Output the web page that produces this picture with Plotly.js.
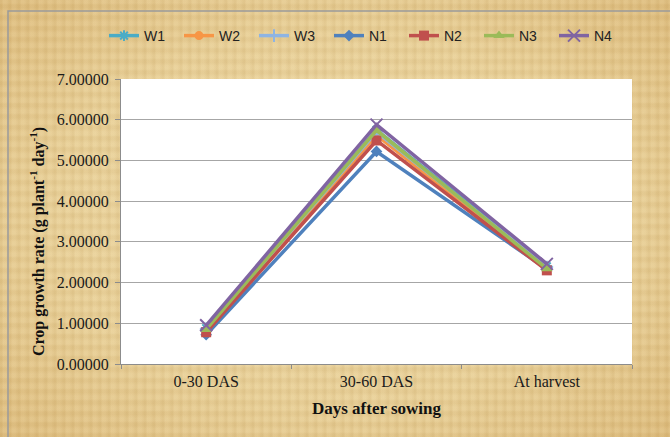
<!DOCTYPE html>
<html>
<head>
<meta charset="utf-8">
<script src="https://cdn.plot.ly/plotly-3.0.1.min.js"></script>
<style>
html,body{margin:0;padding:0;}
body{width:670px;height:437px;overflow:hidden;
background:
 repeating-linear-gradient(90deg, rgba(160,120,50,0.07) 0px, rgba(160,120,50,0.07) 2px, rgba(255,240,200,0.06) 3px, rgba(255,240,200,0.06) 6px, rgba(150,110,40,0.05) 9px),
 repeating-linear-gradient(0deg, rgba(160,120,50,0.06) 0px, rgba(160,120,50,0.06) 3px, rgba(255,245,210,0.07) 5px, rgba(255,245,210,0.07) 8px, rgba(150,110,40,0.04) 11px),
 radial-gradient(ellipse at center, #EDD8A6 0%, #E8CF97 60%, #DDBB7C 100%);
}
#chart{width:670px;height:437px;}
</style>
</head>
<body>
<div id="chart"></div>
<script>
const categories = ["0-30 DAS", "30-60 DAS", "At harvest"];
const seriesNames = ["W1", "W2", "W3", "N1", "N2", "N3", "N4"];
const W1 = [0.88, 5.75, 2.40];
const W2 = [0.82, 5.62, 2.32];
const W3 = [0.86, 5.70, 2.38];
const N1 = [0.72, 5.22, 2.33];
const N2 = [0.78, 5.49, 2.30];
const N3 = [0.85, 5.74, 2.34];
const N4 = [0.95, 5.88, 2.46];
const yTicks = [0, 1, 2, 3, 4, 5, 6, 7];

const seriesValues = [W1, W2, W3, N1, N2, N3, N4];
const colors = ["#4BACC6", "#F79646", "#8EB4E3", "#4F81BD", "#C0504D", "#9BBB59", "#8064A2"];
const symbols = ["asterisk-open", "circle", "cross-thin-open", "diamond", "square", "triangle-up", "x-thin-open"];
const sizes = [9, 9, 9, 9, 10, 10, 12];

const traces = seriesNames.map((n, i) => ({
  type: "scatter",
  mode: "lines+markers",
  name: n,
  x: categories,
  y: seriesValues[i],
  line: {color: colors[i], width: 3.5},
  marker: {symbol: symbols[i], size: sizes[i], color: colors[i],
           line: {color: colors[i], width: (symbols[i].endsWith("open") ? 2 : 0)}}
}));

const W = 670, H = 437;
const m = {l: 121, r: 38, t: 79, b: 73};
const pw = W - m.l - m.r, ph = H - m.t - m.b;
const px = v => (v - m.l) / pw;
const py = v => (H - m.b - v) / ph;
const serif = "Liberation Serif, Times New Roman, serif";

const layout = {
  width: W, height: H,
  margin: m,
  paper_bgcolor: "rgba(0,0,0,0)",
  plot_bgcolor: "#FFFFFF",
  font: {family: serif, size: 16, color: "#1a1a1a"},
  showlegend: true,
  legend: {
    orientation: "h",
    x: px(104), xanchor: "left",
    y: py(36), yanchor: "middle",
    font: {family: "Liberation Sans, Arial, sans-serif", size: 14, color: "#222"},
    entrywidth: 30, entrywidthmode: "pixels",
    itemwidth: 30,
    bgcolor: "rgba(0,0,0,0)",
    tracegroupgap: 0
  },
  xaxis: {
    type: "category",
    range: [-0.5, 2.5],
    showgrid: false,
    showline: true, linecolor: "#8C8C8C", linewidth: 1,
    ticks: "outside", ticklen: 4, tickcolor: "#8C8C8C",
    tickson: "boundaries",
    ticklabelstandoff: 3,
    tickfont: {family: serif, size: 16, color: "#1a1a1a"},
    title: {text: "<b>Days after sowing</b>", standoff: 12,
            font: {family: serif, size: 17, color: "#111"}},
    zeroline: false,
    fixedrange: true
  },
  yaxis: {
    range: [0, 7],
    tickvals: yTicks,
    ticktext: yTicks.map(v => v.toFixed(5)),
    showgrid: true, gridcolor: "#A6A6A6", gridwidth: 1,
    showline: true, linecolor: "#8C8C8C", linewidth: 1,
    ticks: "outside", ticklen: 5, tickcolor: "#8C8C8C",
    ticklabelstandoff: 3,
    tickfont: {family: serif, size: 16, color: "#1a1a1a"},
    title: {text: "<b>Crop growth rate (g plant<sup>-1</sup> day<sup>-1</sup>)</b>" + "&nbsp;".repeat(10), standoff: 8,
            font: {family: serif, size: 16, color: "#111"}},
    zeroline: false,
    fixedrange: true
  },
  shapes: [{
    type: "rect", xref: "paper", yref: "paper", layer: "below",
    x0: px(8), x1: px(W + 5), y0: py(H + 5), y1: py(11),
    line: {color: "#9A9A9A", width: 1.5}, fillcolor: "rgba(0,0,0,0)"
  }]
};

Plotly.newPlot("chart", traces, layout, {displayModeBar: false, staticPlot: true});
</script>
</body>
</html>
